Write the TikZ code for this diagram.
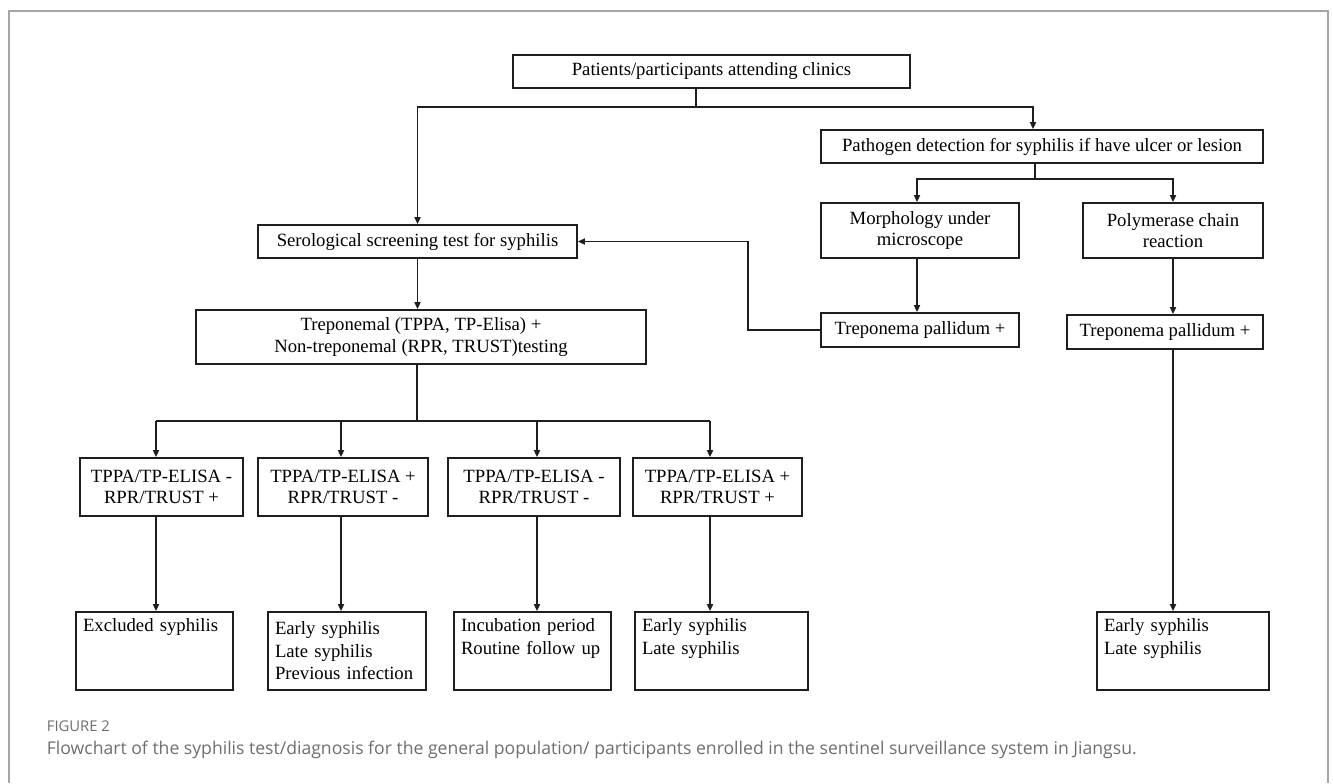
\documentclass[tikz,border=0pt]{standalone}
\usepackage{fontspec}
\setmainfont{Liberation Serif}
\setsansfont{Open Sans}
\usetikzlibrary{arrows.meta, calc}
\definecolor{cline}{HTML}{1E1E1E}
\definecolor{cframe}{HTML}{A6A6A6}
\definecolor{ccap}{HTML}{6E6E6E}
\tikzset{
  every picture/.style={x=0.5pt, y=-0.5pt, line width=0.9pt},
  box/.style={draw=cline, align=center, inner sep=2pt, font=\fontsize{9.35}{10.6}\selectfont},
  res/.style={box, align=left, text width=#1, minimum height=39pt, inner xsep=3.5pt, font=\fontsize{9.35}{11.25}\selectfont},
  arrow/.style={-{Triangle[length=3.5pt, width=3pt]}, draw=cline},
  link/.style={draw=cline},
  note/.style={font=\sffamily\fontsize{8.8}{10}\selectfont, text=ccap, anchor=west, inner sep=0pt},
}

\begin{document}
\begin{tikzpicture}
  \useasboundingbox (0,0) rectangle (1333,783);
  % frame round the figure
  \draw[cframe, line width=0.75pt] (9,783) -- (9,11) -- (1328,11) -- (1328,783);
  % entry and pathogen branch
  \node[box, minimum width=198.5pt, minimum height=16.5pt] (top) at (711.5,71.5) {Patients/participants attending clinics};
  \node[box, minimum width=221pt, minimum height=16.5pt] (patho) at (1042,146.5) {Pathogen detection for syphilis if have ulcer or lesion};
  \node[box, minimum width=99pt, minimum height=27.5pt] (morph) at (920,230.5) {Morphology under\\microscope};
  \node[box, minimum width=90pt, minimum height=27.5pt] (poly) at (1173,230.5) {Polymerase chain\\reaction};
  \node[box, minimum width=99pt, minimum height=17pt] (tp1) at (920,330) {Treponema pallidum +};
  \node[box, minimum width=98pt, minimum height=17pt] (tp2) at (1165,332) {Treponema pallidum +};
  % serological branch
  \node[box, minimum width=159.5pt, minimum height=16.5pt] (serol) at (417.5,241.5) {Serological screening test for syphilis};
  \node[box, minimum width=225pt, minimum height=27pt] (trep) at (421,337) {Treponemal (TPPA, TP-Elisa) +\\Non-treponemal (RPR, TRUST)testing};
  \foreach \n/\x/\bw/\a/\b in {b1/161.5/81.5/-/+, b2/343/85/+/-, b3/534/86/-/-, b4/717.5/84.5/+/+}
    \node[box, minimum width=\bw pt, minimum height=29pt] (\n) at (\x,487) {TPPA/TP-ELISA \a\\RPR/TRUST \b};
  % outcomes
  \node[res=71.5pt] (r1) at (154.5,651) {\mbox{Excluded syphilis}\\\strut\\\strut};
  \node[res=72pt] (r2) at (347,651) {\mbox{Early syphilis}\\\mbox{Late syphilis}\\\mbox{Previous infection}};
  \node[res=71.5pt] (r3) at (532.5,651) {\mbox{Incubation period}\\\mbox{Routine follow up}\\\strut};
  \node[res=79.5pt] (r4) at (721.5,651) {\mbox{Early syphilis}\\\mbox{Late syphilis}\\\strut};
  \node[res=79pt] (r5) at (1183,651) {\mbox{Early syphilis}\\\mbox{Late syphilis}\\\strut};
  % connectors
  \coordinate (j1) at (696,107);
  \draw[link] (top.south -| j1) -- (j1);
  \draw[arrow] (j1) -| (serol.north);
  \draw[arrow] (j1) -| ([xshift=-4.5pt]patho.north);
  \coordinate (j2) at (1035,179);
  \draw[link] (patho.south -| j2) -- (j2);
  \draw[arrow] (j2) -| ([xshift=-1.5pt]morph.north);
  \draw[arrow] (j2) -| (poly.north);
  \draw[arrow] ([xshift=-1.5pt]morph.south) -- ([xshift=-1.5pt]tp1.north);
  \draw[arrow] (poly.south) -- (poly.south |- tp2.north);
  \draw[arrow] (poly.south |- tp2.south) -- (poly.south |- r5.north);
  \coordinate (fb) at (748,330);
  \draw[arrow] (tp1.west) -- (fb) |- (serol.east);
  \draw[arrow] (serol.south) -- (serol.south |- trep.north);
  \coordinate (j3) at (417,421);
  \draw[link] (trep.south -| j3) -- (j3);
  \foreach \n/\x [count=\i] in {b1/156, b2/341, b3/537, b4/710} {
    \coordinate (a\i) at (\x,421);
    \draw[arrow] (a\i) -- (\n.north -| a\i);
    \draw[arrow] (\n.south -| a\i) -- (r\i.north -| a\i);
  }
  \draw[link] (a1) -- (a4);
  % caption
  \node[note, font=\sffamily\fontsize{7.4}{8}\selectfont] (fig) at (46,726) {FIGURE 2};
  \node[note] (cap) at (46,750) {Flowchart of the syphilis test/diagnosis for the general population/ participants enrolled in the sentinel surveillance system in Jiangsu.};
\end{tikzpicture}
\end{document}
